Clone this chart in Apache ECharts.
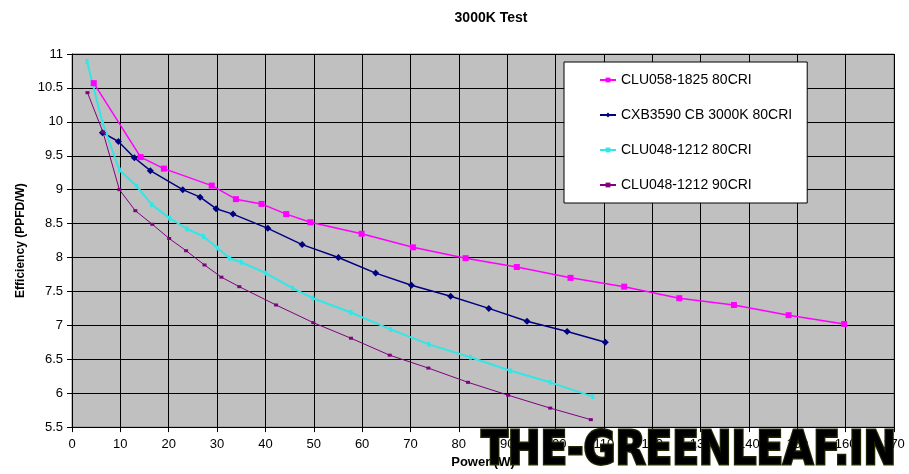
<!DOCTYPE html>
<html><head><meta charset="utf-8">
<script src="https://cdn.jsdelivr.net/npm/echarts@6/dist/echarts.min.js"></script>
<style>html,body{margin:0;padding:0;background:#fff}#c{width:909px;height:474px}</style>
</head><body><div id="c"></div>
<script>
const seriesNames = ['CLU058-1825 80CRI', 'CXB3590 CB 3000K 80CRI', 'CLU048-1212 80CRI', 'CLU048-1212 90CRI'];

const clu058X = [4.5, 14.2, 19.0, 28.9, 33.9, 39.2, 44.3, 49.3, 59.9, 70.5, 81.4, 92.0, 103.1, 114.2, 125.6, 136.9, 148.2, 159.7];
const clu058Y = [10.57, 9.48, 9.31, 9.06, 8.86, 8.79, 8.64, 8.52, 8.35, 8.15, 7.99, 7.86, 7.70, 7.57, 7.40, 7.30, 7.15, 7.02];

const cxbX = [6.3, 9.6, 12.9, 16.2, 22.9, 26.5, 29.8, 33.3, 40.5, 47.6, 55.1, 62.8, 70.2, 78.3, 86.2, 94.1, 102.4, 110.3];
const cxbY = [9.84, 9.71, 9.47, 9.28, 9.00, 8.89, 8.72, 8.64, 8.43, 8.19, 8.00, 7.77, 7.59, 7.43, 7.25, 7.06, 6.91, 6.75];

const clu048aX = [3.1, 6.3, 9.8, 13.4, 16.5, 20.2, 23.8, 27.2, 30.1, 32.6, 35.0, 40.1, 45.6, 49.8, 57.7, 65.9, 73.8, 82.4, 90.7, 98.9, 107.7];
const clu048aY = [10.89, 9.99, 9.29, 9.05, 8.78, 8.58, 8.42, 8.31, 8.14, 7.99, 7.93, 7.77, 7.55, 7.40, 7.19, 6.94, 6.72, 6.53, 6.33, 6.16, 5.95];

const clu048bX = [3.2, 6.4, 9.8, 13.1, 16.6, 20.1, 23.6, 27.4, 30.9, 34.6, 42.2, 49.9, 57.7, 65.7, 73.7, 81.9, 90.2, 98.9, 107.3];
const clu048bY = [10.43, 9.85, 9.0, 8.69, 8.49, 8.28, 8.10, 7.89, 7.71, 7.57, 7.30, 7.04, 6.81, 6.56, 6.37, 6.16, 5.97, 5.78, 5.61];

const zip = (xs, ys) => xs.map((x, i) => [x, ys[i]]);

const FONT = 'Liberation Sans, Arial, sans-serif';
const wmText = 'THE-GREENLEAF.IN';
const wmFont = 'bold 48px "DejaVu Sans"';
const cv = document.createElement('canvas').getContext('2d');
cv.font = wmFont;
const wmW = cv.measureText(wmText).width;
const wmScale = 415 / wmW;

const chart = echarts.init(document.getElementById('c'), null, {renderer: 'canvas'});
chart.setOption({
  animation: false,
  backgroundColor: '#ffffff',
  title: {
    text: '3000K Test', left: 486, top: 6, textAlign: 'center',
    textStyle: {fontFamily: FONT, fontSize: 14, fontWeight: 'bold', color: '#000'}
  },
  grid: {left: 72, right: 15, top: 54, bottom: 46, show: true, backgroundColor: '#c0c0c0', borderColor: '#808080', borderWidth: 1},
  legend: {
    orient: 'vertical', left: 564, top: 62,
    backgroundColor: '#ffffff', borderColor: '#000', borderWidth: 1,
    padding: [11, 15, 11, 35], itemGap: 21, itemWidth: 16, itemHeight: 6, itemTextGap: 7,
    textStyle: {fontFamily: FONT, fontSize: 14, color: '#000', lineHeight: 14},
    data: seriesNames
  },
  xAxis: {
    type: 'value', min: 0, max: 170, interval: 10,
    name: 'Power (W)', nameLocation: 'middle', nameGap: 26,
    nameTextStyle: {fontFamily: FONT, fontSize: 13, fontWeight: 'bold', color: '#000'},
    axisLine: {onZero: false, lineStyle: {color: '#000', width: 1}},
    axisTick: {show: true, length: 5, lineStyle: {color: '#000'}},
    axisLabel: {margin: 11, fontFamily: FONT, fontSize: 13, color: '#000'},
    splitLine: {show: true, lineStyle: {color: '#000', width: 1}}
  },
  yAxis: {
    type: 'value', min: 5.5, max: 11, interval: 0.5,
    name: 'Efficiency (PPFD/W)', nameLocation: 'middle', nameGap: 45,
    nameTextStyle: {fontFamily: FONT, fontSize: 12, fontWeight: 'bold', color: '#000'},
    axisLine: {show: true, lineStyle: {color: '#000', width: 1}},
    axisTick: {show: true, length: 5, lineStyle: {color: '#000'}},
    axisLabel: {margin: 9, fontFamily: FONT, fontSize: 13, color: '#000'},
    splitLine: {show: true, lineStyle: {color: '#000', width: 1}}
  },
  series: [
    {name: seriesNames[0], type: 'line', data: zip(clu058X, clu058Y), symbol: 'rect', symbolSize: 6,
      lineStyle: {color: '#ff00ff', width: 1.5}, itemStyle: {color: '#ff00ff'}},
    {name: seriesNames[1], type: 'line', data: zip(cxbX, cxbY), symbol: 'diamond', symbolSize: 7,
      lineStyle: {color: '#000080', width: 1.5}, itemStyle: {color: '#000080'}},
    {name: seriesNames[2], type: 'line', data: zip(clu048aX, clu048aY), symbol: 'rect', symbolSize: [3, 5],
      lineStyle: {color: '#33e6e6', width: 2}, itemStyle: {color: '#33e6e6'}},
    {name: seriesNames[3], type: 'line', data: zip(clu048bX, clu048bY), symbol: 'rect', symbolSize: [4, 3],
      lineStyle: {color: '#800080', width: 1}, itemStyle: {color: '#800080'}}
  ],
  graphic: [{
    type: 'text', left: 480, top: 428, z: 100,
    scaleX: wmScale, scaleY: 0.95,
    style: {
      text: wmText, font: wmFont,
      fill: new echarts.graphic.LinearGradient(0, 0, 0, 1, [
        {offset: 0, color: '#dcee40'}, {offset: 0.5, color: '#a8cc1e'}, {offset: 1, color: '#5e8a06'}
      ]),
      stroke: '#1d2600', lineWidth: 3,
      shadowColor: 'rgba(0,0,0,0.6)', shadowBlur: 4, shadowOffsetX: 2, shadowOffsetY: 2
    }
  }]
});
</script></body></html>
